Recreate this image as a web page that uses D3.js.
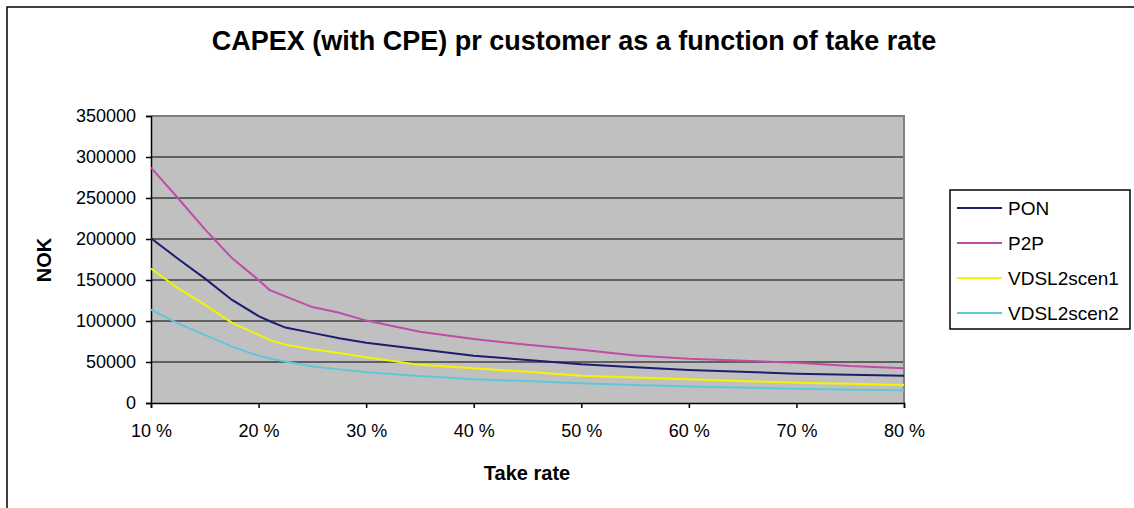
<!DOCTYPE html>
<html>
<head>
<meta charset="utf-8">
<script src="https://cdn.jsdelivr.net/npm/d3@7"></script>
<style>
  body { margin: 0; background: #fff; }
  svg { display: block; font-family: Arial, "Liberation Sans", sans-serif; }
</style>
</head>
<body>
<svg id="chart" width="1134" height="508"></svg>
<script>
// take rate in %, values in NOK per customer
const takeRate = [10, 12.5, 15, 17.5, 20, 21, 22.5, 25, 27.5, 30, 35, 40, 45, 50, 55, 60, 70, 75, 80];
const pon   = [201000, 176000, 152000, 126000, 106000, 100000, 92000, 85500, 79000, 73600, 65500, 57700, 52500, 47200, 43500, 40200, 35800, 34500, 33300];
const p2p   = [287000, 250000, 212000, 177000, 150000, 138000, 130000, 117000, 110000, 100500, 87000, 78000, 71000, 65000, 58000, 54000, 49000, 45000, 42500];
const scen1 = [164000, 140000, 120000, 98000, 83000, 77000, 71000, 65500, 61000, 55700, 46500, 42300, 38000, 33300, 31000, 29000, 24800, 23500, 22000];
const scen2 = [114000, 97000, 83000, 69000, 57500, 54500, 50500, 44500, 41000, 37400, 33000, 29000, 26700, 24000, 21800, 20000, 17400, 16300, 15500];

const seriesNames = ['PON', 'P2P', 'VDSL2scen1', 'VDSL2scen2'];
const seriesValues = [pon, p2p, scen1, scen2];
const colors = ['#1c1c72', '#c04ca6', '#f4f400', '#5ec8d8'];

const xTicks = [10, 20, 30, 40, 50, 60, 70, 80];
const yTicks = [0, 50000, 100000, 150000, 200000, 250000, 300000, 350000];

const svg = d3.select('#chart');
const plotL = 151, plotR = 904, plotT = 116, plotB = 403;

const x = d3.scaleLinear().domain([10, 80]).range([plotL, plotR]);
const y = d3.scaleLinear().domain([0, 350000]).range([plotB, plotT]);

// outer chart border
svg.append('rect')
  .attr('x', 7).attr('y', 7).attr('width', 1200).attr('height', 600)
  .attr('fill', '#fff').attr('stroke', '#000').attr('stroke-width', 1.5);

// title
svg.append('text')
  .attr('x', 574).attr('y', 50)
  .attr('text-anchor', 'middle')
  .attr('font-size', 27).attr('font-weight', 'bold')
  .text('CAPEX (with CPE) pr customer as a function of take rate');

// plot area
svg.append('rect')
  .attr('x', plotL).attr('y', plotT)
  .attr('width', plotR - plotL).attr('height', plotB - plotT)
  .attr('fill', '#c0c0c0');

// gridlines
svg.append('g').selectAll('line')
  .data(yTicks.filter(d => d > 0)).enter().append('line')
  .attr('x1', plotL).attr('x2', plotR)
  .attr('y1', d => y(d)).attr('y2', d => y(d))
  .attr('stroke', '#000').attr('stroke-width', 1);

// plot border top/right in grey
svg.append('path')
  .attr('d', `M${plotL},${plotT}H${plotR}V${plotB}`)
  .attr('fill', 'none').attr('stroke', '#808080').attr('stroke-width', 2);

// axes
const yAxis = d3.axisLeft(y).tickValues(yTicks).tickSize(5).tickPadding(10).tickFormat(d => d);
const xAxis = d3.axisBottom(x).tickValues(xTicks).tickSize(5).tickPadding(16).tickFormat(d => d + ' %');

const gy = svg.append('g').attr('transform', `translate(${plotL},0)`).call(yAxis);
const gx = svg.append('g').attr('transform', `translate(0,${plotB})`).call(xAxis);
[gx, gy].forEach(g => {
  g.select('.domain').attr('stroke', '#000').attr('stroke-width', 1.5);
  g.selectAll('.tick line').attr('stroke', '#000').attr('stroke-width', 1.5);
  g.selectAll('.tick text').attr('font-size', 18).attr('fill', '#000')
    .attr('font-family', 'Arial, "Liberation Sans", sans-serif');
});

// series lines
const line = d3.line()
  .x((d, i) => x(takeRate[i]))
  .y(d => y(d));

svg.append('g').selectAll('path')
  .data(seriesValues).enter().append('path')
  .attr('d', line)
  .attr('fill', 'none')
  .attr('stroke', (d, i) => colors[i])
  .attr('stroke-width', 2);

// axis titles
svg.append('text')
  .attr('x', 527).attr('y', 480)
  .attr('text-anchor', 'middle')
  .attr('font-size', 20).attr('font-weight', 'bold')
  .text('Take rate');

svg.append('text')
  .attr('transform', 'translate(51,260) rotate(-90)')
  .attr('text-anchor', 'middle')
  .attr('font-size', 20).attr('font-weight', 'bold')
  .text('NOK');

// legend
const lgTop = 190, lgStep = 35;
svg.append('rect')
  .attr('x', 950).attr('y', lgTop)
  .attr('width', 180).attr('height', 139)
  .attr('fill', '#fff').attr('stroke', '#000').attr('stroke-width', 1.5);

const lg = svg.append('g').selectAll('g')
  .data(seriesNames).enter().append('g')
  .attr('transform', (d, i) => `translate(0,${lgTop + 18 + i * lgStep})`);
lg.append('line')
  .attr('x1', 957).attr('x2', 1002)
  .attr('stroke', (d, i) => colors[i]).attr('stroke-width', 2);
lg.append('text')
  .attr('x', 1008).attr('dy', '0.35em')
  .attr('font-size', 19)
  .text(d => d);
</script>
</body>
</html>
